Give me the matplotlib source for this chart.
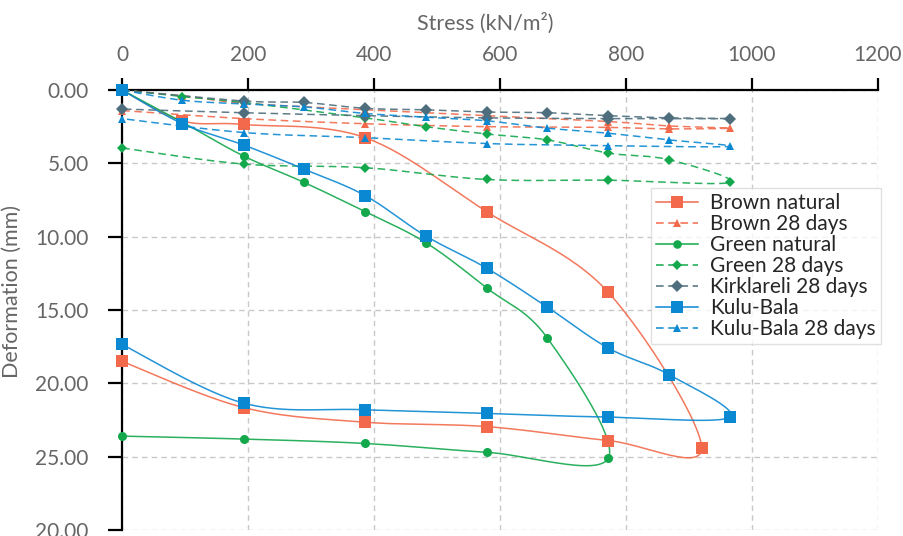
import numpy as np
import matplotlib
matplotlib.use("Agg")
import matplotlib.pyplot as plt
from matplotlib.lines import Line2D

plt.rcParams['font.family'] = ['Lato', 'DejaVu Sans']

# Stress (kN/m2) and deformation (mm): loading branch followed by unloading branch
brown_nat_x = [0, 96, 193, 386, 579, 772, 920, 772, 579, 386, 193, 0]
brown_nat_y = [0, 2.1, 2.35, 3.25, 8.3, 13.8, 24.4, 23.9, 22.95, 22.65, 21.65, 18.5]

brown_28_x = [0, 96, 193, 386, 579, 772, 868, 965, 868, 772, 579, 386, 193, 0]
brown_28_y = [0, 0.4, 0.9, 1.35, 1.75, 2.15, 2.45, 2.6, 2.65, 2.55, 2.5, 2.3, 1.95, 1.4]

green_nat_x = [0, 96, 193, 289, 386, 482, 579, 675, 772, 579, 386, 193, 0]
green_nat_y = [0, 2.2, 4.5, 6.3, 8.3, 10.4, 13.5, 16.9, 25.1, 24.7, 24.1, 23.8, 23.6]

green_28_x = [0, 96, 193, 386, 482, 579, 675, 772, 868, 965, 772, 579, 386, 193, 0]
green_28_y = [0, 0.45, 0.85, 1.9, 2.5, 3.0, 3.4, 4.3, 4.75, 6.3, 6.15, 6.1, 5.3, 5.05, 3.95]

kirk_28_x = [0, 193, 289, 386, 482, 579, 675, 772, 868, 965, 772, 579, 386, 193, 0]
kirk_28_y = [0, 0.75, 0.85, 1.25, 1.35, 1.5, 1.55, 1.75, 1.9, 1.95, 1.95, 1.9, 1.75, 1.55, 1.3]

kulu_nat_x = [0, 96, 193, 289, 386, 482, 579, 675, 772, 868, 965, 772, 579, 386, 193, 0]
kulu_nat_y = [0, 2.3, 3.75, 5.4, 7.2, 9.95, 12.15, 14.8, 17.6, 19.4, 22.3, 22.3, 22.05, 21.8, 21.35, 17.35]

kulu_28_x = [0, 96, 193, 289, 386, 482, 579, 675, 772, 868, 965, 772, 579, 386, 193, 0]
kulu_28_y = [0, 0.7, 0.95, 1.15, 1.6, 1.85, 2.1, 2.6, 2.95, 3.4, 3.85, 3.8, 3.65, 3.25, 2.9, 1.95]

x_ticks = [0, 200, 400, 600, 800, 1000, 1200]
y_ticks = [0, 5, 10, 15, 20, 25, 30]
y_tick_labels = ['0.00', '5.00', '10.00', '15.00', '20.00', '25.00', '20.00']

C_BROWN = '#F26A4B'
C_GREEN = '#13A84C'
C_BLUE = '#0B88D2'
C_SLATE = '#4E6E7D'
C_TEXT = '#666666'

XMAX, YMAX = 1200, 30
AX_W_PX, AX_H_PX = 756, 440
SX, SY = AX_W_PX / XMAX, AX_H_PX / YMAX


def smooth(xs, ys, n=30):
    """Smoothed Bezier path through the points, built in screen-proportional space."""
    p = np.column_stack([np.asarray(xs, float) * SX, np.asarray(ys, float) * SY])
    ext = np.vstack([p[0], p, p[-1]])
    t = np.linspace(0, 1, n)[1:, None]
    out = [p[:1]]
    for i in range(len(p) - 1):
        p0, p1, p2, p3 = ext[i], ext[i + 1], ext[i + 2], ext[i + 3]
        c1 = p1 + (p2 - p0) / 6
        c2 = p2 - (p3 - p1) / 6
        seg = ((1 - t) ** 3) * p1 + 3 * ((1 - t) ** 2) * t * c1 \
            + 3 * (1 - t) * t ** 2 * c2 + t ** 3 * p2
        out.append(seg)
    c = np.vstack(out)
    return c[:, 0] / SX, c[:, 1] / SY


fig = plt.figure(figsize=(9.04, 5.36), dpi=100)
ax = fig.add_axes([122 / 904, 6 / 536, AX_W_PX / 904, AX_H_PX / 536])

series = [
    ('Brown natural', brown_nat_x, brown_nat_y, C_BROWN, '-', 's', 8.5, 1.1),
    ('Brown 28 days', brown_28_x, brown_28_y, C_BROWN, (0, (5, 3)), '^', 6, 1.1),
    ('Green natural', green_nat_x, green_nat_y, C_GREEN, '-', 'o', 6.5, 1.1),
    ('Green 28 days', green_28_x, green_28_y, C_GREEN, (0, (5, 3)), 'D', 5.5, 1.1),
    ('Kirklareli 28 days', kirk_28_x, kirk_28_y, C_SLATE, (0, (5, 3)), 'D', 6, 1.1),
    ('Kulu-Bala', kulu_nat_x, kulu_nat_y, C_BLUE, '-', 's', 8.5, 1.1),
    ('Kulu-Bala 28 days', kulu_28_x, kulu_28_y, C_BLUE, (0, (5, 3)), '^', 6, 1.1),
]

handles = []
for label, xs, ys, col, ls, mk, ms, lw in series:
    sx, sy = smooth(xs, ys)
    ax.plot(sx, sy, color=col, linestyle=ls, linewidth=lw, alpha=0.9,
            clip_on=False, zorder=3)
    ax.plot(xs, ys, linestyle='none', marker=mk, markersize=ms, color=col,
            markeredgewidth=0, clip_on=False, zorder=4)
    handles.append(Line2D([], [], color=col, linestyle=ls, linewidth=lw,
                          marker=mk, markersize=ms * 0.95, markeredgewidth=0,
                          label=label))

ax.set_xlim(0, XMAX)
ax.set_ylim(YMAX, 0)
ax.xaxis.tick_top()
ax.xaxis.set_label_position('top')
ax.set_xticks(x_ticks)
ax.set_yticks(y_ticks)
ax.set_yticklabels(y_tick_labels)

for side in ['right', 'bottom']:
    ax.spines[side].set_visible(False)
for side in ['top', 'left']:
    ax.spines[side].set_linewidth(1.6)
    ax.spines[side].set_color('black')

ax.tick_params(axis='x', which='major', direction='out', length=9, width=1.6,
               pad=9, labelsize=15, labelcolor=C_TEXT, color='black')
ax.tick_params(axis='y', which='major', direction='out', length=10, width=1.6,
               pad=14, labelsize=15, labelcolor=C_TEXT, color='black')

ax.grid(True, color='#C8C8C8', linestyle=(0, (4, 3)), linewidth=1.0, zorder=0)
ax.set_axisbelow(True)

ax.set_xlabel('Stress (kN/m²)', fontsize=15.5, color=C_TEXT)
ax.xaxis.set_label_coords(0.48, 1.0 + 60 / AX_H_PX)
ax.set_ylabel('Deformation (mm)', fontsize=15.5, color=C_TEXT)
ax.yaxis.set_label_coords(-100 / AX_W_PX, 1 - (292 - 90) / AX_H_PX)

leg = ax.legend(handles=handles, loc='upper right', bbox_to_anchor=(1.004, 0.778),
                fontsize=15, frameon=True, fancybox=False, borderpad=0.25,
                labelspacing=0.05, handlelength=2.0, handletextpad=0.6,
                borderaxespad=0.0)
leg.get_frame().set_edgecolor('#D9D9D9')
leg.get_frame().set_linewidth(1.0)
for txt in leg.get_texts():
    txt.set_color('#262626')

fig.savefig('out.png', dpi=100)
